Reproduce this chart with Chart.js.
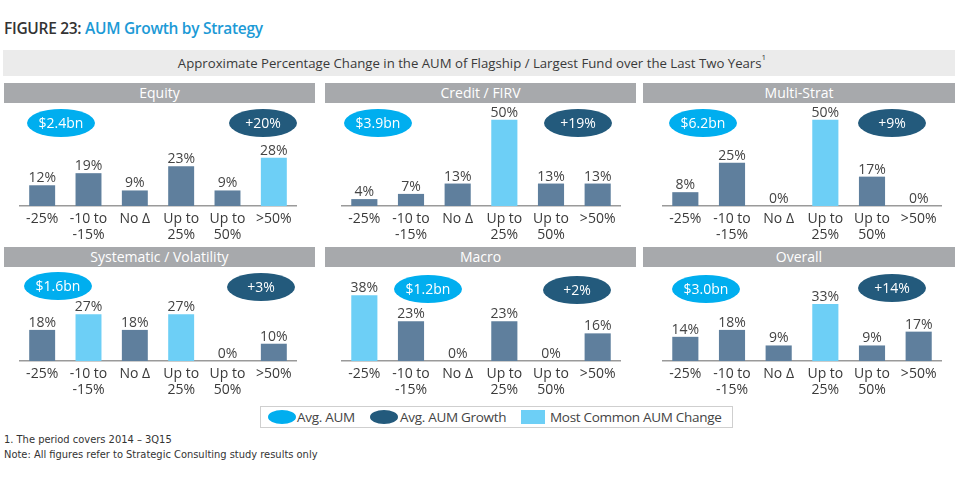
<!DOCTYPE html>
<html>
<head>
<meta charset="utf-8">
<script src="https://cdn.jsdelivr.net/npm/chart.js@4/dist/chart.umd.min.js"></script>
<style>
  html, body { margin:0; padding:0; background:#fff; }
  body { width:958px; height:481px; position:relative; overflow:hidden; font-family:"Open Sans", "Noto Sans", sans-serif; color:#333; }
  .abs { position:absolute; }
  #title { left:4px; top:17px; font-size:15.5px; font-weight:600; color:#333; letter-spacing:-0.3px; white-space:nowrap; }
  #title span { color:#1c9ad6; }
  #banner { left:3px; top:50px; width:938px; padding-right:14px; height:26px; background:#ebebeb; text-align:center; line-height:26px; font-size:13.2px; color:#3a3a3a; }
  #banner sup { font-size:8px; vertical-align:top; line-height:14px; }
  .hdr { height:20px; background:#a7a9ac; color:#fff; text-align:center; line-height:20px; font-size:14px; }
  .ell { color:#fff; text-align:center; font-size:14px; border-radius:50%; }
  .aum { background:#00aeef; }
  .grw { background:#235a7c; }
  #legend { left:260px; top:406px; width:471px; height:20px; border:1px solid #cfcfcf; background:#fff; }
  .lg { position:absolute; top:0; line-height:20px; font-size:13.5px; letter-spacing:-0.3px; color:#444; white-space:nowrap; }
  .fn { left:4px; font-family:"Liberation Sans Narrow", "DejaVu Sans Condensed", sans-serif; font-size:11px; color:#333; white-space:nowrap; }
</style>
</head>
<body>
<div id="title" class="abs">FIGURE 23: <span>AUM Growth by Strategy</span></div>
<div id="banner" class="abs">Approximate Percentage Change in the AUM of Flagship / Largest Fund over the Last Two Years<sup>1</sup></div>

<div id="legend" class="abs">
  <div class="abs" style="left:7px;top:3px;width:28px;height:14px;border-radius:50%;background:#00aeef;"></div>
  <div class="lg" style="left:36px;">Avg. AUM</div>
  <div class="abs" style="left:109px;top:3px;width:28px;height:14px;border-radius:50%;background:#235a7c;"></div>
  <div class="lg" style="left:139px;">Avg. AUM Growth</div>
  <div class="abs" style="left:260px;top:3px;width:24px;height:14px;background:#6dcff6;"></div>
  <div class="lg" style="left:289px;">Most Common AUM Change</div>
</div>

<div class="abs fn" style="top:433px;">1. The period covers 2014 – 3Q15</div>
<div class="abs fn" style="top:448px;">Note: All figures refer to Strategic Consulting study results only</div>

<script>
// ---------------- DATA ----------------
const categories = [['-25%'], ['-10 to', '-15%'], ['No Δ'], ['Up to', '25%'], ['Up to', '50%'], ['>50%']];
const strategies = ['Equity', 'Credit / FIRV', 'Multi-Strat', 'Systematic / Volatility', 'Macro', 'Overall'];
const equityValues     = [12, 19, 9, 23, 9, 28];
const creditValues     = [4, 7, 13, 50, 13, 13];
const multiStratValues = [8, 25, 0, 50, 17, 0];
const systematicValues = [18, 27, 18, 27, 0, 10];
const macroValues      = [38, 23, 0, 23, 0, 16];
const overallValues    = [14, 18, 9, 33, 9, 17];
const avgAUM    = ['$2.4bn', '$3.9bn', '$6.2bn', '$1.6bn', '$1.2bn', '$3.0bn'];
const avgGrowth = ['+20%', '+19%', '+9%', '+3%', '+2%', '+14%'];
const seriesValues = [equityValues, creditValues, multiStratValues, systematicValues, macroValues, overallValues];

// ---------------- LAYOUT ----------------
const headerBoxes = [[4, 83, 311], [325, 83, 311], [643, 83, 312], [4, 247, 311], [325, 247, 311], [643, 247, 312]];
const canvasBoxes = [[19, 103, 278], [341, 103, 280], [662, 103, 280], [19, 258, 278], [341, 258, 280], [662, 258, 280]];
const canvasH = 141;
const aumCenters    = [[61, 123], [378, 123], [703, 123], [58, 286], [428, 289], [706, 289]];
const growthCenters = [[263, 123], [578, 123], [892, 123], [261, 287], [577, 290], [892, 288]];
const ellW = 68, ellH = 28;
const COL_BAR = '#5f7f9d', COL_TOP = '#6dcff6';

const valueLabels = {
  id: 'valueLabels',
  afterDatasetsDraw(chart) {
    const ctx = chart.ctx;
    const meta = chart.getDatasetMeta(0);
    const data = chart.data.datasets[0].data;
    ctx.save();
    ctx.font = '14px "Open Sans", "Noto Sans", sans-serif';
    ctx.fillStyle = '#444';
    ctx.textAlign = 'center';
    ctx.textBaseline = 'alphabetic';
    meta.data.forEach((bar, i) => {
      ctx.fillText(data[i] + '%', bar.x, bar.y - 3);
    });
    ctx.restore();
  }
};

function addDiv(cls, left, top, width, height, text) {
  const d = document.createElement('div');
  d.className = 'abs ' + cls;
  d.style.left = left + 'px';
  d.style.top = top + 'px';
  d.style.width = width + 'px';
  if (height) { d.style.height = height + 'px'; d.style.lineHeight = height + 'px'; }
  d.textContent = text;
  document.body.appendChild(d);
  return d;
}

strategies.forEach((name, k) => {
  const [hx, hy, hw] = headerBoxes[k];
  addDiv('hdr', hx, hy, hw, 20, name);

  const [cx, cy, cw] = canvasBoxes[k];
  const wrap = document.createElement('div');
  wrap.className = 'abs';
  wrap.style.left = cx + 'px'; wrap.style.top = cy + 'px';
  wrap.style.width = cw + 'px'; wrap.style.height = canvasH + 'px';
  const cv = document.createElement('canvas');
  wrap.appendChild(cv);
  document.body.appendChild(wrap);

  const vals = seriesValues[k];
  const mx = Math.max(...vals);
  new Chart(cv, {
    type: 'bar',
    data: {
      labels: categories,
      datasets: [{
        data: vals,
        backgroundColor: vals.map(v => v === mx ? COL_TOP : COL_BAR),
        barPercentage: 0.56,
        categoryPercentage: 1.0,
        borderWidth: 0
      }]
    },
    options: {
      responsive: true,
      maintainAspectRatio: false,
      animation: false,
      devicePixelRatio: 1,
      layout: { padding: { top: 8, left: 0, right: 0, bottom: 0 } },
      plugins: { legend: { display: false }, tooltip: { enabled: false } },
      scales: {
        x: {
          grid: { display: false, drawTicks: false },
          border: { display: true, color: '#9a9a9a', width: 1.5 },
          ticks: {
            color: '#3a3a3a', padding: 5, autoSkip: false, maxRotation: 0,
            font: { family: '"Open Sans", "Noto Sans", sans-serif', size: 14, lineHeight: 1.15 }
          },
          afterFit(axis) { axis.height = 38; }
        },
        y: { display: false, min: 0, max: 55 }
      }
    },
    plugins: [valueLabels]
  });

  const [ax, ay] = aumCenters[k];
  addDiv('ell aum', ax - ellW / 2, ay - ellH / 2, ellW, ellH, avgAUM[k]);
  const [gx, gy] = growthCenters[k];
  addDiv('ell grw', gx - ellW / 2, gy - ellH / 2, ellW, ellH, avgGrowth[k]);
});
</script>
</body>
</html>
